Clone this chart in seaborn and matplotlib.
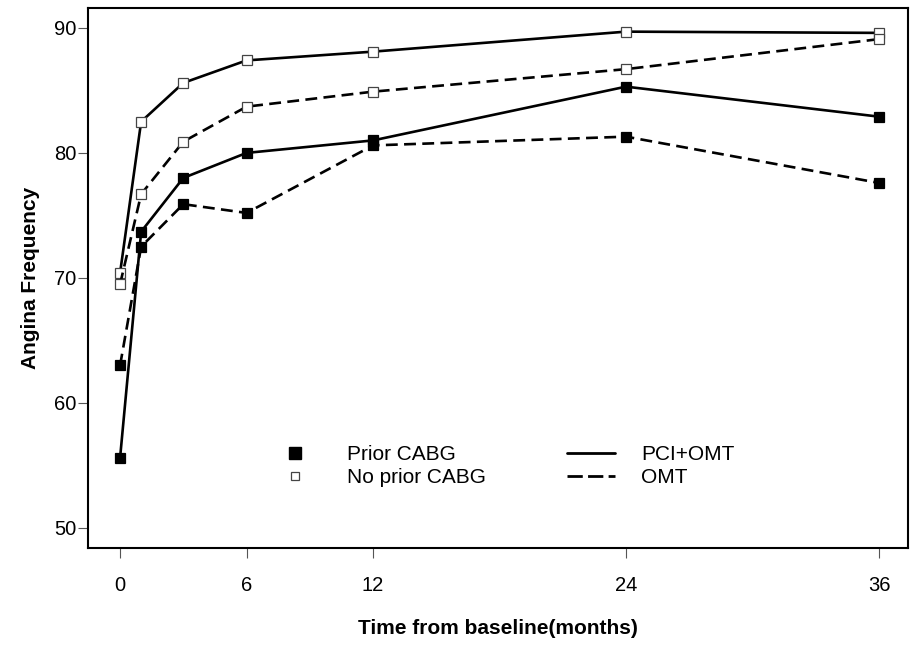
import numpy as np
import pandas as pd
import matplotlib
matplotlib.use("Agg")
import matplotlib.pyplot as plt
import seaborn as sns
from matplotlib.lines import Line2D

months = [0, 1, 3, 6, 12, 24, 36]

# values
prior_pci = [55.6, 73.7, 78.0, 80.0, 81.0, 85.3, 82.9]
prior_omt = [63.0, 72.5, 75.9, 75.2, 80.6, 81.3, 77.6]
noprior_pci = [70.4, 82.5, 85.6, 87.4, 88.1, 89.7, 89.6]
noprior_omt = [69.5, 76.7, 80.9, 83.7, 84.9, 86.7, 89.1]

x_ticks = [0, 6, 12, 24, 36]
y_ticks = [50, 60, 70, 80, 90]

sns.set_theme(style="ticks")
plt.rcParams["font.family"] = ["Liberation Sans", "DejaVu Sans"]
plt.rcParams["text.color"] = "black"
plt.rcParams["axes.labelcolor"] = "black"

fig = plt.figure(figsize=(9.15, 6.46), dpi=100)
ax = fig.add_axes([0.0962, 0.1517, 0.8962, 0.8361])

dash = (0, (4.5, 2.4))
series = [
    (prior_pci, "black", "-"),
    (prior_omt, "black", dash),
    (noprior_pci, "white", "-"),
    (noprior_omt, "white", dash),
]
for vals, face, ls in series:
    df = pd.DataFrame({"month": months, "freq": vals})
    sns.lineplot(data=df, x="month", y="freq", ax=ax, color="black",
                 linewidth=1.9, linestyle=ls, marker="s",
                 markersize=7.8 if face == "black" else 7,
                 markerfacecolor=face,
                 markeredgecolor="black" if face == "black" else "#444444",
                 markeredgewidth=0.9, errorbar=None, zorder=3)

ax.set_xlim(-1.52, 37.38)
ax.set_ylim(48.4, 91.6)
ax.set_xticks(x_ticks)
ax.set_yticks(y_ticks)
for s in ax.spines.values():
    s.set_visible(True)
    s.set_linewidth(1.5)
    s.set_color("black")
ax.tick_params(axis="x", direction="out", length=7.5, width=0.8,
               color="#555555", pad=13, labelsize=14.5, labelcolor="black")
ax.tick_params(axis="y", direction="out", length=7.5, width=0.8,
               color="#555555", pad=1, labelsize=14.5, labelcolor="black")
ax.set_xlabel("Time from baseline(months)", fontsize=15,
              fontweight="bold", labelpad=17)
ax.set_ylabel("Angina Frequency", fontsize=15, fontweight="bold",
              labelpad=10)

# legend: marker fill = group, line style = treatment
h_groups = [
    Line2D([], [], linestyle="none", marker="s", markersize=8.5,
           markerfacecolor="black", markeredgecolor="black"),
    Line2D([], [], linestyle="none", marker="s", markersize=6,
           markerfacecolor="white", markeredgecolor="#444444",
           markeredgewidth=0.9),
]
leg1 = ax.legend(h_groups, ["Prior CABG", "No prior CABG"],
                 loc="upper left", bbox_to_anchor=(0.2276, 0.21),
                 frameon=False, fontsize=15, handlelength=1.0,
                 handletextpad=1.95, labelspacing=0.2, borderpad=0)
ax.add_artist(leg1)
h_treat = [
    Line2D([], [], color="black", linewidth=2, linestyle="-"),
    Line2D([], [], color="black", linewidth=2, linestyle=(0, (5.5, 1.9))),
]
ax.legend(h_treat, ["PCI+OMT", "OMT"], loc="upper left",
          bbox_to_anchor=(0.572, 0.21), frameon=False, fontsize=15,
          handlelength=2.3, handletextpad=1.23, labelspacing=0.2,
          borderpad=0)

fig.savefig("out.png", dpi=100)
